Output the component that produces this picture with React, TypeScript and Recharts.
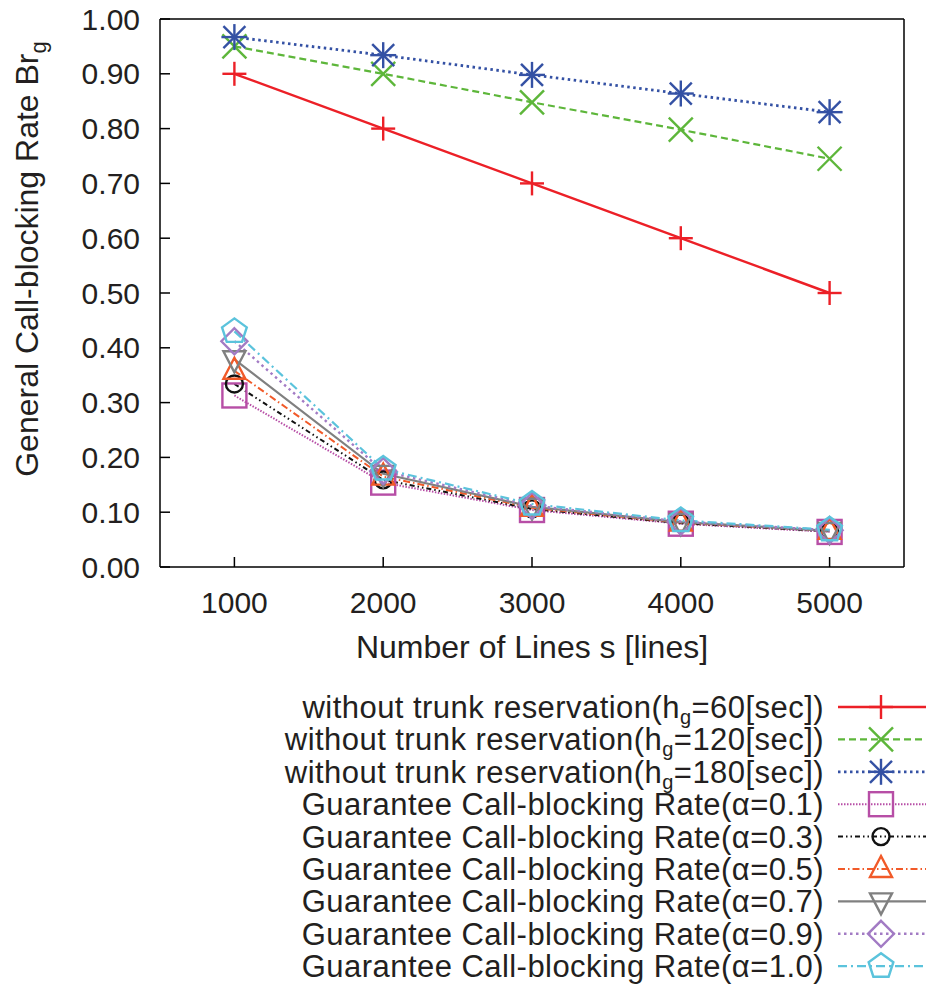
import React from "react";
import { LineChart, Line, XAxis, YAxis, Label } from "recharts";

// x categories (number of lines s)
const lineCounts = [1000, 2000, 3000, 4000, 5000];

// without trunk reservation
const hg60 = [0.9, 0.8, 0.7, 0.6, 0.5];
const hg120 = [0.95, 0.9, 0.848, 0.798, 0.745];
const hg180 = [0.967, 0.934, 0.898, 0.864, 0.83];

// guarantee call-blocking rate
const alpha01 = [0.313, 0.154, 0.104, 0.079, 0.064];
const alpha03 = [0.334, 0.159, 0.106, 0.08, 0.065];
const alpha05 = [0.358, 0.165, 0.108, 0.081, 0.066];
const alpha07 = [0.379, 0.17, 0.11, 0.082, 0.066];
const alpha09 = [0.412, 0.175, 0.112, 0.083, 0.067];
const alpha10 = [0.43, 0.179, 0.115, 0.085, 0.068];

const yTicks = [0, 0.1, 0.2, 0.3, 0.4, 0.5, 0.6, 0.7, 0.8, 0.9, 1.0];
const yMinorTicks = Array.from({ length: 101 }, (_, i) => i / 100);

const FONT = '"Liberation Sans", Arial, Helvetica, sans-serif';

const data = lineCounts.map((s, i) => ({
  s,
  hg60: hg60[i],
  hg120: hg120[i],
  hg180: hg180[i],
  a01: alpha01[i],
  a03: alpha03[i],
  a05: alpha05[i],
  a07: alpha07[i],
  a09: alpha09[i],
  a10: alpha10[i],
}));

type Marker = "plus" | "cross" | "star" | "square" | "circle" | "tri" | "invtri" | "diamond" | "pentagon";

function drawMarker(kind: Marker, x: number, y: number, color: string) {
  const sw = 2.4;
  const common = { stroke: color, strokeWidth: sw, fill: "none" };
  switch (kind) {
    case "plus":
      return (
        <g {...common}>
          <line x1={x - 12} y1={y} x2={x + 12} y2={y} />
          <line x1={x} y1={y - 12} x2={x} y2={y + 12} />
        </g>
      );
    case "cross":
      return (
        <g {...common}>
          <line x1={x - 12} y1={y - 12} x2={x + 12} y2={y + 12} />
          <line x1={x - 12} y1={y + 12} x2={x + 12} y2={y - 12} />
        </g>
      );
    case "star":
      return (
        <g {...common}>
          <line x1={x - 13} y1={y} x2={x + 13} y2={y} />
          <line x1={x} y1={y - 13} x2={x} y2={y + 13} />
          <line x1={x - 11} y1={y - 11} x2={x + 11} y2={y + 11} />
          <line x1={x - 11} y1={y + 11} x2={x + 11} y2={y - 11} />
        </g>
      );
    case "square":
      return <rect x={x - 12} y={y - 12} width={24} height={24} {...common} />;
    case "circle":
      return <circle cx={x} cy={y} r={8.5} {...common} />;
    case "tri":
      return <polygon points={`${x},${y - 13} ${x + 11},${y + 8} ${x - 11},${y + 8}`} {...common} />;
    case "invtri":
      return <polygon points={`${x},${y + 13} ${x + 11},${y - 8} ${x - 11},${y - 8}`} {...common} />;
    case "diamond":
      return <polygon points={`${x},${y - 13} ${x + 13},${y} ${x},${y + 13} ${x - 13},${y}`} {...common} />;
    case "pentagon": {
      const pts = [0, 1, 2, 3, 4]
        .map((k) => {
          const a = (-90 + k * 72) * (Math.PI / 180);
          return `${x + 13 * Math.cos(a)},${y + 13 * Math.sin(a)}`;
        })
        .join(" ");
      return <polygon points={pts} {...common} />;
    }
  }
}

interface SeriesDef {
  key: string;
  color: string;
  dash?: string;
  width: number;
  marker: Marker;
  label: React.ReactNode;
}

const hLabel = (v: string) => (
  <>
    without trunk reservation(h
    <tspan dy={6} fontSize={20}>g</tspan>
    <tspan dy={-6}>={v}[sec])</tspan>
  </>
);
const aLabel = (v: string) => <>Guarantee Call-blocking Rate(α={v})</>;

const series: SeriesDef[] = [
  { key: "hg60", color: "#ec2027", width: 2.4, marker: "plus", label: hLabel("60") },
  { key: "hg120", color: "#5db63a", dash: "7 4", width: 2.2, marker: "cross", label: hLabel("120") },
  { key: "hg180", color: "#3451a4", dash: "2.5 3.5", width: 2.8, marker: "star", label: hLabel("180") },
  { key: "a01", color: "#b74ea6", dash: "1.5 1.5", width: 2, marker: "square", label: aLabel("0.1") },
  { key: "a03", color: "#111111", dash: "5 3 1.5 3 1.5 3", width: 2, marker: "circle", label: aLabel("0.3") },
  { key: "a05", color: "#f15a29", dash: "7 3 1.5 3", width: 2, marker: "tri", label: aLabel("0.5") },
  { key: "a07", color: "#808080", width: 2.2, marker: "invtri", label: aLabel("0.7") },
  { key: "a09", color: "#a27bc4", dash: "2.5 3.5", width: 2.4, marker: "diamond", label: aLabel("0.9") },
  { key: "a10", color: "#5bc3dc", dash: "9 4 2 4", width: 2.2, marker: "pentagon", label: aLabel("1.0") },
];

function YTitle(props: any) {
  const vb = props.viewBox || { x: 0 };
  const x = vb.x + 38;
  const y = 259;
  return (
    <text
      x={x}
      y={y}
      transform={`rotate(-90 ${x} ${y})`}
      textAnchor="middle"
      fontSize={32}
      fill="#231f20"
      fontFamily={FONT}
    >
      General Call-blocking Rate Br
      <tspan dy={8} fontSize={22}>g</tspan>
    </text>
  );
}

function LegendBlock() {
  const top = 707;
  const step = 32.4;
  return (
    <svg width={926} height={295} style={{ position: "absolute", left: 0, top: 690 }}>
      {series.map((s, i) => {
        const cy = top + i * step - 690;
        return (
          <g key={s.key}>
            <text
              x={824}
              y={cy + 11}
              textAnchor="end"
              fontSize={31}
              letterSpacing={0.45}
              fill="#231f20"
              fontFamily={FONT}
            >
              {s.label}
            </text>
            <line
              x1={838}
              y1={cy}
              x2={926}
              y2={cy}
              stroke={s.color}
              strokeWidth={s.width}
              strokeDasharray={s.dash}
            />
            {drawMarker(s.marker, 881, cy, s.color)}
          </g>
        );
      })}
    </svg>
  );
}

export default function App() {
  return (
    <div style={{ position: "relative", width: 926, height: 985, background: "#fff" }}>
      <style>{"body{margin:0}"}</style>
      <LineChart
        width={926}
        height={690}
        data={data}
        margin={{ top: 19, right: 22, bottom: 0, left: 0 }}
      >
        <XAxis
          dataKey="s"
          type="number"
          domain={[500, 5500]}
          ticks={lineCounts}
          height={123}
          tickSize={-10}
          tickMargin={35}
          stroke="#000"
          strokeWidth={1.5}
          tick={{ fontSize: 30, fill: "#231f20", fontFamily: FONT }}
        >
          <Label
            value="Number of Lines s [lines]"
            position="insideBottom"
            offset={32}
            fontSize={32}
            fill="#231f20"
            fontFamily={FONT}
          />
        </XAxis>
        <XAxis
          xAxisId="top"
          orientation="top"
          mirror
          type="number"
          domain={[500, 5500]}
          ticks={lineCounts}
          height={10}
          tickSize={10}
          tickFormatter={() => ""}
          stroke="#000"
          strokeWidth={1.5}
        />
        <YAxis
          yAxisId={0}
          type="number"
          domain={[0, 1]}
          ticks={yTicks}
          width={160}
          tickSize={-10}
          tickMargin={30}
          tickFormatter={(v: number) => v.toFixed(2)}
          stroke="#000"
          strokeWidth={1.5}
          tick={{ fontSize: 30, fill: "#231f20", fontFamily: FONT }}
          label={<YTitle />}
        />
        <YAxis
          yAxisId="leftMinor"
          type="number"
          domain={[0, 1]}
          ticks={yMinorTicks}
          interval={0}
          mirror
          width={10}
          tickSize={4}
          axisLine={false}
          tickFormatter={() => ""}
          stroke="#000"
          strokeWidth={1.2}
        />
        <YAxis
          yAxisId="right"
          orientation="right"
          type="number"
          domain={[0, 1]}
          ticks={yTicks}
          mirror
          width={10}
          tickSize={10}
          tickFormatter={() => ""}
          stroke="#000"
          strokeWidth={1.5}
        />
        <YAxis
          yAxisId="rightMinor"
          orientation="right"
          type="number"
          domain={[0, 1]}
          ticks={yMinorTicks}
          interval={0}
          mirror
          width={10}
          tickSize={4}
          axisLine={false}
          tickFormatter={() => ""}
          stroke="#000"
          strokeWidth={1.2}
        />
        {series.map((s) => (
          <Line
            key={s.key}
            dataKey={s.key}
            type="linear"
            stroke={s.color}
            strokeWidth={s.width}
            strokeDasharray={s.dash}
            isAnimationActive={false}
            dot={(p: any) => (
              <g key={`${s.key}-${p.index}`}>{drawMarker(s.marker, p.cx, p.cy, s.color)}</g>
            )}
            activeDot={false}
          />
        ))}
      </LineChart>
      <LegendBlock />
    </div>
  );
}
